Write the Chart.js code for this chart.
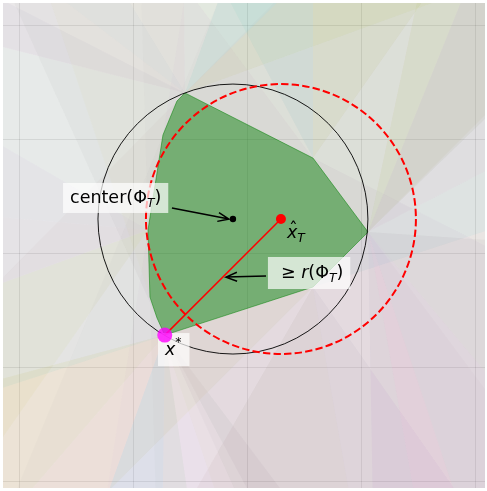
<!DOCTYPE html>
<html>
<head>
<meta charset="utf-8">
<script src="https://cdn.jsdelivr.net/npm/chart.js@4.4.0/dist/chart.umd.min.js"></script>
<style>
  html, body { margin: 0; padding: 0; background: #fff; }
  #wrap { width: 487px; height: 491px; }
</style>
</head>
<body>
<div id="wrap"><canvas id="chart"></canvas></div>
<script>
// grid positions (data units)
const gridX = [-2, -1, 0, 1, 2];
const gridY = [-2, -1, 0, 1, 2];

// feasible region Phi_T (polygon vertices)
const polyX = [-0.553, -0.623, -0.746, -0.877, -0.860, -0.798, -0.730, 0.570, 1.053, 0.570];
const polyY = [1.404, 1.333, 1.035, 0.202, -0.386, -0.570, -0.720, -0.298, 0.184, 0.833];

// outward fans: apex vertex, ray angles from / to (degrees)
const wedgeVertex = [8, 8, 8, 8, 8, 8, 8, 6, 6, 6, 6, 6, 0, 0, 0, 0, 0, 3, 3, 3, 9, 9, 7, 7];
const wedgeFrom = [27.5, 44, 68, -50, -71.6, -80, -89, -165, -130.8, -109.8, -90.7, -61.8,
                   142.7, 121.4, 90.6, 44.4, 20, 150, 175, 200, 55, 90, -120, -80];
const wedgeTo = [44, 68, 78, -3.8, -50, -71.6, -80, -130.8, -109.8, -90.7, -81.8, -53,
                 165.8, 142.7, 121.4, 70, 44.4, 175, 200, 235, 90, 118, -80, -55];

// points
const centerPt = [-0.132, 0.298];
const xHat = [0.289, 0.298];
const xStar = [-0.730, -0.720];
const circleRadius = 1.184;

// annotation anchors (text left / baseline, arrow start -> tip)
const centerLabel = [-1.561, 0.439];
const centerArrow = [-0.667, 0.395, -0.167, 0.298];
const xHatLabel = [0.342, 0.132];
const radiusLabel = [0.289, -0.219];
const radiusArrow = [0.158, -0.202, -0.193, -0.211];
const xStarLabel = [-0.728, -0.895];

// styles
const edgeColors = [['#8c564b', 0.035], ['#7f7f7f', 0.03], ['#9467bd', 0.03], ['#7f7f7f', 0.03], ['#bcbd22', 0.03],
                    ['#7f7f7f', 0.05], ['#17becf', 0.055], ['#bcbd22', 0.06], ['#e377c2', 0.055], ['#9467bd', 0.055]];
const wedgeColors = [['#e377c2', 0.05], ['#8c564b', 0.09], ['#bcbd22', 0.08], ['#7f7f7f', 0.07],
                     ['#9467bd', 0.08], ['#e377c2', 0.1], ['#9467bd', 0.06],
                     ['#bcbd22', 0.09], ['#ff7f0e', 0.05], ['#17becf', 0.09], ['#2ca02c', 0.06], ['#7f7f7f', 0.06],
                     ['#e377c2', 0.09], ['#9467bd', 0.08], ['#e377c2', 0.05], ['#17becf', 0.08], ['#bcbd22', 0.07],
                     ['#9467bd', 0.05], ['#e377c2', 0.06], ['#bcbd22', 0.06],
                     ['#bcbd22', 0.07], ['#17becf', 0.06], ['#8c564b', 0.06], ['#9467bd', 0.06]];

function hexA(hex, a) {
  const n = parseInt(hex.slice(1), 16);
  return `rgba(${n >> 16},${(n >> 8) & 255},${n & 255},${a})`;
}

const F = 20;
// halfplane through (px,py) along angle, on the side holding the centre
function halfPlane(px, py, ang) {
  const r = ang * Math.PI / 180, dx = Math.cos(r), dy = Math.sin(r);
  let nx = -dy, ny = dx;
  if (nx * (centerPt[0] - px) + ny * (centerPt[1] - py) < 0) { nx = -nx; ny = -ny; }
  return [
    {x: px - F * dx, y: py - F * dy},
    {x: px + F * dx, y: py + F * dy},
    {x: px + F * dx + F * nx, y: py + F * dy + F * ny},
    {x: px - F * dx + F * nx, y: py - F * dy + F * ny},
    {x: px - F * dx, y: py - F * dy}
  ];
}

function wedge(px, py, a0, a1) {
  const r0 = a0 * Math.PI / 180, r1 = a1 * Math.PI / 180;
  return [
    {x: px, y: py},
    {x: px + F * Math.cos(r0), y: py + F * Math.sin(r0)},
    {x: px + F * Math.cos(r1), y: py + F * Math.sin(r1)},
    {x: px, y: py}
  ];
}

function shape(data, color) {
  return {type: 'line', data, backgroundColor: color, borderColor: 'rgba(0,0,0,0)',
          borderWidth: 0, pointRadius: 0, fill: 'shape', order: 100};
}

const datasets = [];
polyX.forEach((vx, i) => {
  const j = (i + 1) % polyX.length;
  const ang = Math.atan2(polyY[j] - polyY[i], polyX[j] - vx) * 180 / Math.PI;
  datasets.push(shape(halfPlane(vx, polyY[i], ang), hexA(edgeColors[i][0], edgeColors[i][1])));
});
wedgeVertex.forEach((v, i) => {
  datasets.push(shape(wedge(polyX[v], polyY[v], wedgeFrom[i], wedgeTo[i]),
                      hexA(wedgeColors[i][0], wedgeColors[i][1])));
});

const polyData = polyX.map((vx, i) => ({x: vx, y: polyY[i]}));
polyData.push({x: polyX[0], y: polyY[0]});
const polyIndex = datasets.length;
datasets.push({
  type: 'line',
  data: polyData,
  backgroundColor: 'rgba(0,128,0,0.45)',
  borderColor: 'rgba(0,128,0,0.5)',
  borderWidth: 1,
  pointRadius: 0,
  fill: 'shape',
  order: 50
});

const lineIndex = datasets.length;
datasets.push({
  type: 'line',
  data: [{x: xStar[0], y: xStar[1]}, {x: xHat[0], y: xHat[1]}],
  borderColor: '#ff0000',
  borderWidth: 1.5,
  pointRadius: 0,
  fill: false,
  order: 20
});
datasets.push({
  type: 'scatter',
  data: [{x: centerPt[0], y: centerPt[1]}],
  backgroundColor: '#000',
  borderWidth: 0,
  pointRadius: 3.2,
  order: 10
});
datasets.push({
  type: 'scatter',
  data: [{x: xHat[0], y: xHat[1]}],
  backgroundColor: '#ff0000',
  borderWidth: 0,
  pointRadius: 5,
  order: 9
});
datasets.push({
  type: 'scatter',
  data: [{x: xStar[0], y: xStar[1]}],
  backgroundColor: 'rgba(255,0,255,0.8)',
  borderWidth: 0,
  pointRadius: 7.5,
  order: 8
});

const FS = 17.5;
const N = `${FS}px "DejaVu Sans"`;
const I = `italic ${FS}px "DejaVu Sans"`;
const S = `italic ${FS * 0.7}px "DejaVu Sans"`;
const SN = `${FS * 0.7}px "DejaVu Sans"`;

function textRun(ctx, parts, x, y, draw) {
  let cx = x;
  parts.forEach(p => {
    ctx.font = p.f;
    if (draw) ctx.fillText(p.t, cx, y + (p.dy || 0));
    cx += ctx.measureText(p.t).width;
  });
  return cx - x;
}

function arrow(ctx, x0, y0, x1, y1) {
  const ang = Math.atan2(y1 - y0, x1 - x0);
  ctx.beginPath();
  ctx.moveTo(x0, y0);
  ctx.lineTo(x1, y1);
  ctx.moveTo(x1 - 11 * Math.cos(ang) + 4.5 * Math.sin(ang), y1 - 11 * Math.sin(ang) - 4.5 * Math.cos(ang));
  ctx.lineTo(x1, y1);
  ctx.lineTo(x1 - 11 * Math.cos(ang) - 4.5 * Math.sin(ang), y1 - 11 * Math.sin(ang) + 4.5 * Math.cos(ang));
  ctx.strokeStyle = '#000';
  ctx.lineWidth = 1.5;
  ctx.stroke();
}

function boxedText(ctx, parts, x, y, pad) {
  const w = textRun(ctx, parts, x, y, false);
  ctx.fillStyle = 'rgba(255,255,255,0.7)';
  ctx.fillRect(x - pad[0], y - pad[1], w + pad[0] + pad[2], pad[1] + pad[3]);
  ctx.fillStyle = '#000';
  textRun(ctx, parts, x, y, true);
}

// circles right after the polygon, labels right after the red segment
const overlayPlugin = {
  id: 'overlay',
  afterDatasetDraw(chart, args) {
    const {ctx, chartArea: a, scales: {x, y}} = chart;
    const X = v => x.getPixelForValue(v), Y = v => y.getPixelForValue(v);
    if (args.index === polyIndex) {
      const rpx = X(circleRadius) - X(0);
      ctx.save();
      ctx.beginPath();
      ctx.rect(a.left, a.top, a.right - a.left, a.bottom - a.top);
      ctx.clip();
      ctx.beginPath();
      ctx.arc(X(centerPt[0]), Y(centerPt[1]), rpx, 0, Math.PI * 2);
      ctx.strokeStyle = '#000';
      ctx.lineWidth = 0.9;
      ctx.stroke();
      ctx.beginPath();
      ctx.arc(X(xHat[0]), Y(xHat[1]), rpx, 0, Math.PI * 2);
      ctx.strokeStyle = '#ff0000';
      ctx.lineWidth = 2;
      ctx.setLineDash([7.4, 3.2]);
      ctx.stroke();
      ctx.restore();
    }
    if (args.index === lineIndex) {
      ctx.save();
      ctx.textBaseline = 'alphabetic';
      ctx.textAlign = 'left';
      arrow(ctx, X(centerArrow[0]), Y(centerArrow[1]), X(centerArrow[2]), Y(centerArrow[3]));
      arrow(ctx, X(radiusArrow[0]), Y(radiusArrow[1]), X(radiusArrow[2]), Y(radiusArrow[3]));

      boxedText(ctx, [{t: 'center(', f: N}, {t: 'Φ', f: N}, {t: 'T', f: S, dy: 4}, {t: ')', f: N}],
        X(centerLabel[0]), Y(centerLabel[1]), [7, 20, 7, 10]);
      boxedText(ctx, [{t: '≥ ', f: N}, {t: 'r', f: I}, {t: '(Φ', f: N}, {t: 'T', f: S, dy: 4}, {t: ')', f: N}],
        X(radiusLabel[0]), Y(radiusLabel[1]), [13, 21, 7, 11]);
      boxedText(ctx, [{t: 'x', f: I}, {t: '*', f: SN, dy: -9}],
        X(xStarLabel[0]), Y(xStarLabel[1]), [7, 22, 8, 11]);

      const hx = X(xHatLabel[0]), hy = Y(xHatLabel[1]);
      ctx.fillStyle = '#000';
      textRun(ctx, [{t: 'x', f: I}, {t: 'T', f: S, dy: 4}], hx, hy, true);
      ctx.font = N;
      ctx.textAlign = 'center';
      ctx.fillText('ˆ', hx + 6.5, hy - 3);
      ctx.restore();
    }
  }
};

new Chart(document.getElementById('chart'), {
  type: 'scatter',
  data: {datasets},
  options: {
    responsive: true,
    maintainAspectRatio: false,
    animation: false,
    layout: {autoPadding: false, padding: {left: 3, top: 3, right: 2, bottom: 3}},
    plugins: {legend: {display: false}, tooltip: {enabled: false}},
    scales: {
      x: {
        type: 'linear', min: -2.149, max: 2.079,
        afterBuildTicks: s => { s.ticks = gridX.map(v => ({value: v})); },
        ticks: {display: false},
        grid: {color: 'rgba(0,0,0,0.1)', lineWidth: 1, drawTicks: false},
        border: {display: false}
      },
      y: {
        type: 'linear', min: -2.061, max: 2.193,
        afterBuildTicks: s => { s.ticks = gridY.map(v => ({value: v})); },
        ticks: {display: false},
        grid: {color: 'rgba(0,0,0,0.1)', lineWidth: 1, drawTicks: false},
        border: {display: false}
      }
    }
  },
  plugins: [overlayPlugin]
});
</script>
</body>
</html>
